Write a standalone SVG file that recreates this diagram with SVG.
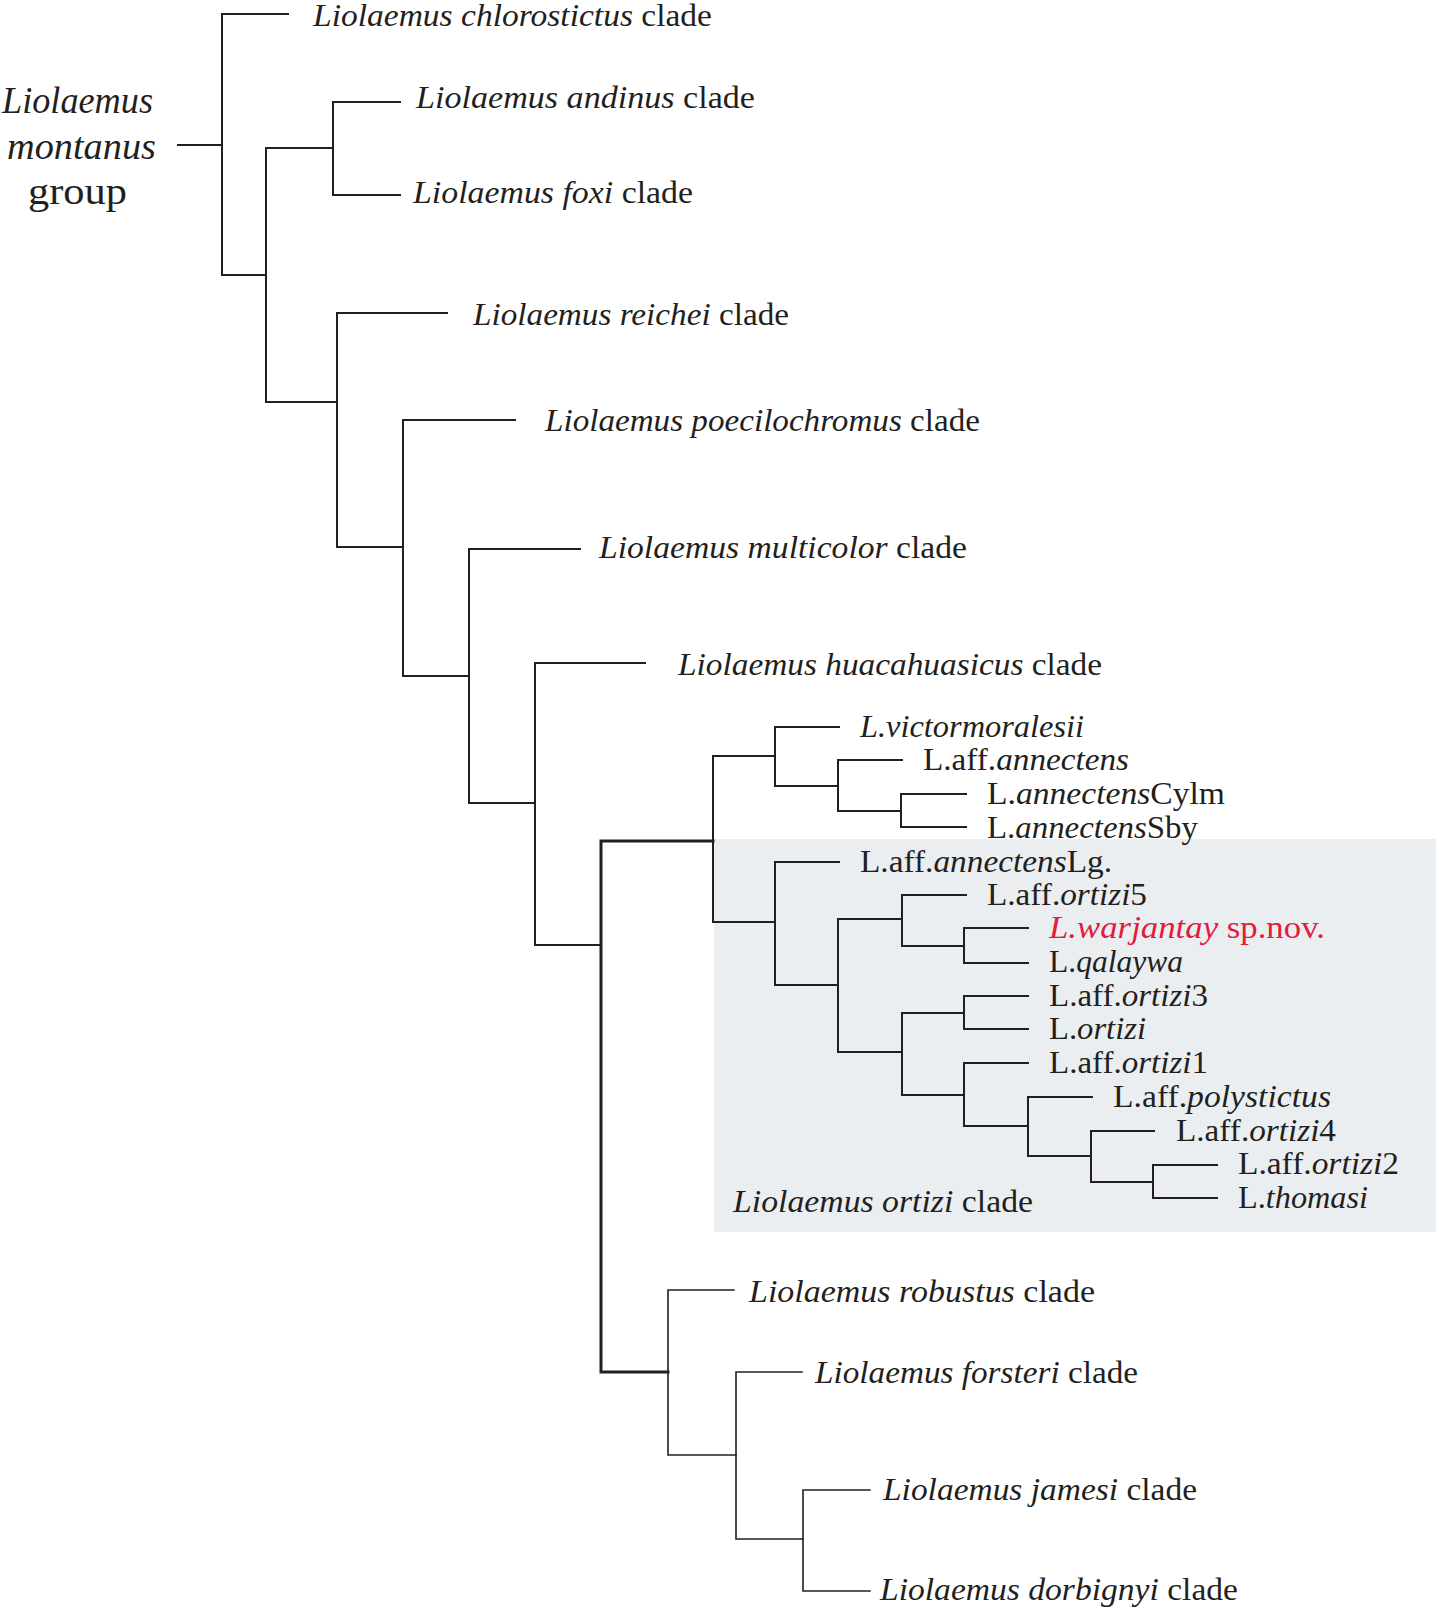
<svg xmlns="http://www.w3.org/2000/svg" width="1440" height="1612" viewBox="0 0 1440 1612">
<style>
.ln{fill:none;stroke:#231f20;stroke-width:2;stroke-linecap:square;stroke-linejoin:miter}
.thick{stroke-width:3}
.thin{stroke-width:1.6}
.t{font-family:"Liberation Serif","Times New Roman",serif;fill:#231f20}
.big{font-size:32px}
.sm{font-size:31px}
.grp{font-size:37px}
.i{font-style:italic}
.red{fill:#e31b3c}
</style>
<rect id="ortizi-box" x="714" y="839" width="722" height="393" fill="#ebeef0"/>
<g id="connectors">
<path class="ln" d="M178 145 H222"/>
<path class="ln" d="M288 14 H222 V275 H266"/>
<path class="ln" d="M333 148 H266 V402 H337"/>
<path class="ln" d="M400 102 H333 V195 H400"/>
<path class="ln" d="M447 313 H337 V547 H403"/>
<path class="ln" d="M515 420 H403 V676 H469"/>
<path class="ln" d="M580 549 H469 V803 H535"/>
<path class="ln" d="M645 663 H535 V945 H601"/>
<path class="ln thick" d="M713 841 H601 V1372 H668"/>
<path class="ln" d="M775 756 H713 V922 H775"/>
<path class="ln" d="M839 727 H775 V786 H838"/>
<path class="ln" d="M902 760 H838 V811 H901"/>
<path class="ln" d="M966 794 H901 V827 H966"/>
<path class="ln" d="M839 862 H775 V985 H838"/>
<path class="ln" d="M902 919 H838 V1052 H902"/>
<path class="ln" d="M966 895 H902 V946 H964"/>
<path class="ln" d="M1028 928 H964 V963 H1028"/>
<path class="ln" d="M964 1013 H902 V1095 H964"/>
<path class="ln" d="M1028 996 H964 V1029 H1028"/>
<path class="ln" d="M1028 1063 H964 V1126 H1028"/>
<path class="ln" d="M1092 1097 H1028 V1156 H1091"/>
<path class="ln" d="M1154 1131 H1091 V1182 H1153"/>
<path class="ln" d="M1217 1165 H1153 V1198 H1217"/>
<path class="ln thin" d="M734 1290 H668 V1455 H736"/>
<path class="ln thin" d="M802 1372 H736 V1539 H803"/>
<path class="ln thin" d="M870 1490 H803 V1591 H870"/>
</g>
<g id="group-label">
<text class="t grp i" x="2" y="113" textLength="151" lengthAdjust="spacingAndGlyphs">Liolaemus</text>
<text class="t grp i" x="7" y="159" textLength="149" lengthAdjust="spacingAndGlyphs">montanus</text>
<text class="t grp" x="28" y="204" textLength="99" lengthAdjust="spacingAndGlyphs">group</text>
</g>
<g id="chlorostictus"><text class="t big" x="313" y="26" textLength="399" lengthAdjust="spacingAndGlyphs"><tspan class="i">Liolaemus chlorostictus</tspan> clade</text></g>
<g id="andinus"><text class="t big" x="416" y="108" textLength="339" lengthAdjust="spacingAndGlyphs"><tspan class="i">Liolaemus andinus</tspan> clade</text></g>
<g id="foxi"><text class="t big" x="413" y="203" textLength="280" lengthAdjust="spacingAndGlyphs"><tspan class="i">Liolaemus foxi</tspan> clade</text></g>
<g id="reichei"><text class="t big" x="473" y="325" textLength="316" lengthAdjust="spacingAndGlyphs"><tspan class="i">Liolaemus reichei</tspan> clade</text></g>
<g id="poecilochromus"><text class="t big" x="545" y="431" textLength="435" lengthAdjust="spacingAndGlyphs"><tspan class="i">Liolaemus poecilochromus</tspan> clade</text></g>
<g id="multicolor"><text class="t big" x="599" y="558" textLength="368" lengthAdjust="spacingAndGlyphs"><tspan class="i">Liolaemus multicolor</tspan> clade</text></g>
<g id="huacahuasicus"><text class="t big" x="678" y="675" textLength="424" lengthAdjust="spacingAndGlyphs"><tspan class="i">Liolaemus huacahuasicus</tspan> clade</text></g>
<g id="victormoralesii"><text class="t sm i" x="860" y="737" textLength="224" lengthAdjust="spacingAndGlyphs">L.victormoralesii</text></g>
<g id="aff-annectens"><text class="t sm" x="923" y="770" textLength="206" lengthAdjust="spacingAndGlyphs">L.aff.<tspan class="i">annectens</tspan></text></g>
<g id="annectens-cylm"><text class="t sm" x="987" y="804" textLength="238" lengthAdjust="spacingAndGlyphs">L.<tspan class="i">annectens</tspan>Cylm</text></g>
<g id="annectens-sby"><text class="t sm" x="987" y="838" textLength="211" lengthAdjust="spacingAndGlyphs">L.<tspan class="i">annectens</tspan>Sby</text></g>
<g id="aff-annectens-lg"><text class="t sm" x="860" y="872" textLength="252" lengthAdjust="spacingAndGlyphs">L.aff.<tspan class="i">annectens</tspan>Lg.</text></g>
<g id="aff-ortizi5"><text class="t sm" x="987" y="905" textLength="160" lengthAdjust="spacingAndGlyphs">L.aff.<tspan class="i">ortizi</tspan>5</text></g>
<g id="warjantay"><text class="t sm red" x="1049" y="938" textLength="276" lengthAdjust="spacingAndGlyphs"><tspan class="i">L.warjantay</tspan> sp.nov.</text></g>
<g id="qalaywa"><text class="t sm" x="1049" y="972" textLength="134" lengthAdjust="spacingAndGlyphs">L.<tspan class="i">qalaywa</tspan></text></g>
<g id="aff-ortizi3"><text class="t sm" x="1049" y="1006" textLength="159" lengthAdjust="spacingAndGlyphs">L.aff.<tspan class="i">ortizi</tspan>3</text></g>
<g id="ortizi"><text class="t sm" x="1049" y="1039" textLength="97" lengthAdjust="spacingAndGlyphs">L.<tspan class="i">ortizi</tspan></text></g>
<g id="aff-ortizi1"><text class="t sm" x="1049" y="1073" textLength="159" lengthAdjust="spacingAndGlyphs">L.aff.<tspan class="i">ortizi</tspan>1</text></g>
<g id="aff-polystictus"><text class="t sm" x="1113" y="1107" textLength="218" lengthAdjust="spacingAndGlyphs">L.aff.<tspan class="i">polystictus</tspan></text></g>
<g id="aff-ortizi4"><text class="t sm" x="1176" y="1141" textLength="160" lengthAdjust="spacingAndGlyphs">L.aff.<tspan class="i">ortizi</tspan>4</text></g>
<g id="aff-ortizi2"><text class="t sm" x="1238" y="1174" textLength="161" lengthAdjust="spacingAndGlyphs">L.aff.<tspan class="i">ortizi</tspan>2</text></g>
<g id="thomasi"><text class="t sm" x="1238" y="1208" textLength="130" lengthAdjust="spacingAndGlyphs">L.<tspan class="i">thomasi</tspan></text></g>
<g id="ortizi-clade"><text class="t big" x="733" y="1212" textLength="300" lengthAdjust="spacingAndGlyphs"><tspan class="i">Liolaemus ortizi</tspan> clade</text></g>
<g id="robustus"><text class="t big" x="749" y="1302" textLength="346" lengthAdjust="spacingAndGlyphs"><tspan class="i">Liolaemus robustus</tspan> clade</text></g>
<g id="forsteri"><text class="t big" x="815" y="1383" textLength="323" lengthAdjust="spacingAndGlyphs"><tspan class="i">Liolaemus forsteri</tspan> clade</text></g>
<g id="jamesi"><text class="t big" x="883" y="1500" textLength="314" lengthAdjust="spacingAndGlyphs"><tspan class="i">Liolaemus jamesi</tspan> clade</text></g>
<g id="dorbignyi"><text class="t big" x="880" y="1600" textLength="358" lengthAdjust="spacingAndGlyphs"><tspan class="i">Liolaemus dorbignyi</tspan> clade</text></g>
</svg>
